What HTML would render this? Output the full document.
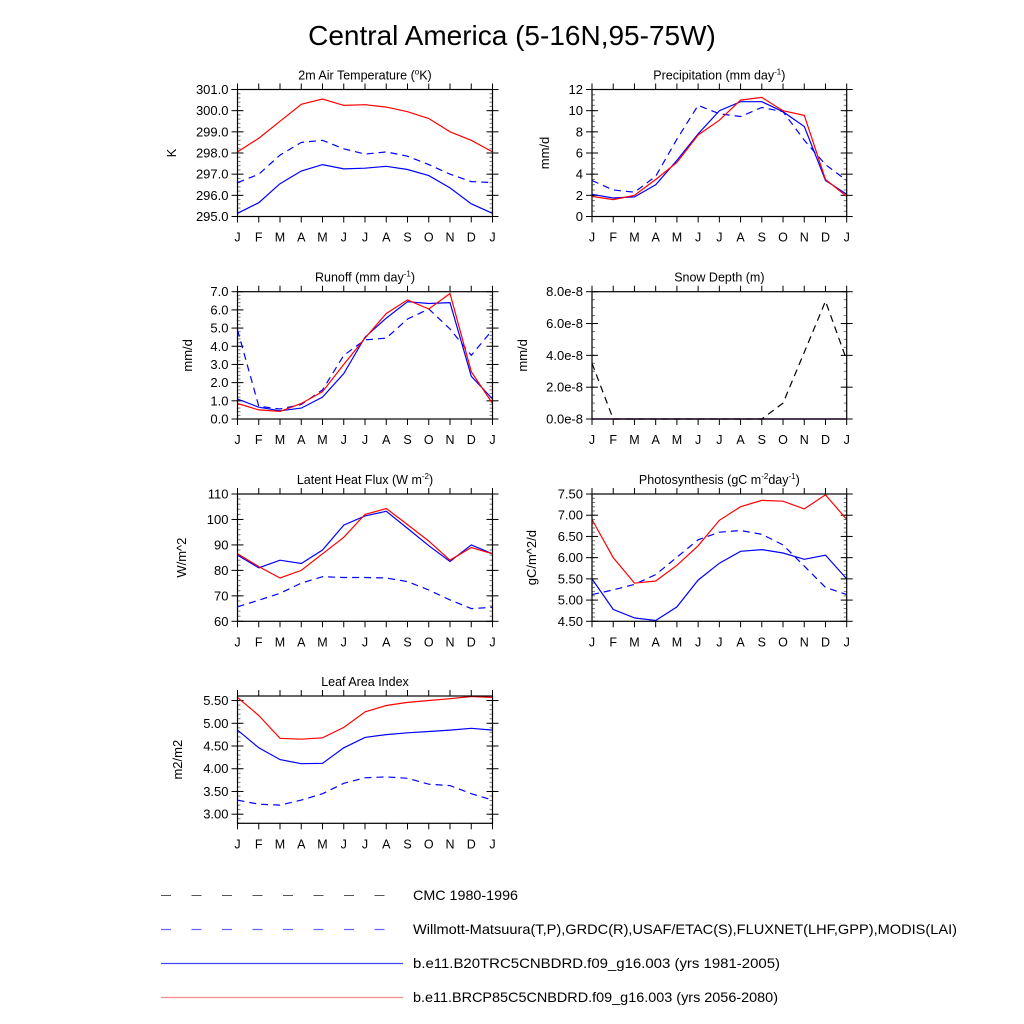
<!DOCTYPE html>
<html><head><meta charset="utf-8"><style>
html,body{margin:0;padding:0;background:#fff;}
svg{display:block;font-family:"Liberation Sans",sans-serif;}
</style></head><body>
<svg id="chart" width="1024" height="1024" viewBox="0 0 1024 1024" xmlns="http://www.w3.org/2000/svg">
<rect width="1024" height="1024" fill="#fff"/>
<text x="512" y="45" font-size="28" text-anchor="middle" fill="#000">Central America (5-16N,95-75W)</text>
<g id="panels"></g>
<g>
<line x1="161" y1="895.5" x2="403" y2="895.5" stroke="#555" stroke-width="1" stroke-dasharray="10,20.5"/>
<text x="413" y="900" font-size="14" textLength="105" lengthAdjust="spacingAndGlyphs">CMC 1980-1996</text>
<line x1="161" y1="929.5" x2="403" y2="929.5" stroke="#6666ff" stroke-width="1.2" stroke-dasharray="10,20.5"/>
<text x="413" y="934" font-size="14" textLength="544" lengthAdjust="spacingAndGlyphs">Willmott-Matsuura(T,P),GRDC(R),USAF/ETAC(S),FLUXNET(LHF,GPP),MODIS(LAI)</text>
<line x1="161" y1="963.5" x2="403" y2="963.5" stroke="#4444ff" stroke-width="1.2"/>
<text x="413" y="968" font-size="14" textLength="367" lengthAdjust="spacingAndGlyphs">b.e11.B20TRC5CNBDRD.f09_g16.003 (yrs 1981-2005)</text>
<line x1="161" y1="997.5" x2="403" y2="997.5" stroke="#ff8888" stroke-width="1.3"/>
<text x="413" y="1002" font-size="14" textLength="365" lengthAdjust="spacingAndGlyphs">b.e11.BRCP85C5CNBDRD.f09_g16.003 (yrs 2056-2080)</text>
</g>
</svg>
<script>
const months = ["J","F","M","A","M","J","J","A","S","O","N","D","J"];
// 2m Air temperature
const tsaRed = [298.05,298.7,299.5,300.3,300.55,300.25,300.28,300.17,299.95,299.63,299.0,298.6,298.05];
const tsaBlue = [295.15,295.65,296.55,297.15,297.45,297.25,297.28,297.37,297.22,296.93,296.35,295.6,295.15];
const tsaObs = [296.6,297.0,297.9,298.5,298.6,298.2,297.95,298.05,297.85,297.45,297.0,296.65,296.6];
// Precipitation
const prRed = [1.9,1.6,2.0,3.5,5.1,7.7,9.1,11.0,11.25,10.0,9.55,3.5,1.9];
const prBlue = [2.1,1.75,1.85,3.0,5.3,7.8,10.0,10.85,10.85,9.9,8.5,3.4,2.1];
const prObs = [3.4,2.5,2.3,3.8,7.3,10.5,9.7,9.45,10.3,9.9,7.2,4.9,3.4];
// Runoff
const roRed = [0.85,0.5,0.42,0.85,1.5,3.0,4.45,5.8,6.55,6.05,6.9,2.6,0.85];
const roBlue = [1.1,0.65,0.45,0.6,1.2,2.5,4.5,5.55,6.45,6.35,6.4,2.35,1.1];
const roObs = [4.9,0.7,0.55,0.8,1.6,3.5,4.35,4.45,5.5,6.05,4.95,3.5,4.9];
// Snow depth (units of 1e-8)
const snRed = [0,0,0,0,0,0,0,0,0,0,0,0,0];
const snBlue = [0,0,0,0,0,0,0,0,0,0,0,0,0];
const snCmc = [3.5,0,0,0,0,0,0,0,0,1.0,4.2,7.4,3.7];
// Latent heat
const lhRed = [86.5,81.5,77,80,86.5,93,102,104.3,98,91.5,84,89,86.5];
const lhBlue = [86,81,84,82.7,88,97.8,101.4,103.2,96.5,89.7,83.5,90,86.5];
const lhObs = [65.7,68.3,71,75,77.5,77.2,77.2,77,75.6,72.3,68.4,65,65.5];
// Photosynthesis
const gppRed = [6.9,6.0,5.4,5.45,5.82,6.28,6.88,7.2,7.35,7.33,7.15,7.48,6.9];
const gppBlue = [5.5,4.78,4.58,4.52,4.84,5.47,5.87,6.15,6.19,6.11,5.96,6.06,5.5];
const gppObs = [5.13,5.24,5.37,5.6,6.01,6.42,6.6,6.64,6.55,6.3,5.8,5.3,5.13];
// LAI
const laiRed = [5.57,5.17,4.67,4.65,4.68,4.91,5.25,5.39,5.46,5.50,5.54,5.59,5.57];
const laiBlue = [4.85,4.46,4.20,4.11,4.12,4.46,4.69,4.75,4.79,4.82,4.85,4.89,4.85];
const laiObs = [3.31,3.22,3.20,3.31,3.45,3.68,3.80,3.82,3.79,3.66,3.63,3.45,3.31];

const NS="http://www.w3.org/2000/svg";
const root=document.getElementById("panels");
function mk(tag,attrs,parent){const e=document.createElementNS(NS,tag);for(const k in attrs)e.setAttribute(k,attrs[k]);(parent||root).appendChild(e);return e;}

const panels=[
 {key:"air-temperature",title:"2m Air Temperature (",sup:"o",after:"K)",ylab:"K",ylx:176,x0:237.5,x1:492.5,y0:89.5,y1:216.5,min:295,max:301,step:1,minor:0.2,dec:1,series:[[tsaObs,"#0000ff",true],[tsaBlue,"#0000ff",false],[tsaRed,"#ff0000",false]]},
 {key:"precipitation",title:"Precipitation (mm day",sup:"-1",after:")",ylab:"mm/d",ylx:549,x0:592,x1:846.7,y0:89.5,y1:216.5,min:0,max:12,step:2,minor:0.5,dec:0,series:[[prObs,"#0000ff",true],[prBlue,"#0000ff",false],[prRed,"#ff0000",false]]},
 {key:"runoff",title:"Runoff (mm day",sup:"-1",after:")",ylab:"mm/d",ylx:192,x0:237.5,x1:492.5,y0:291.7,y1:419,min:0,max:7,step:1,minor:0.2,dec:1,series:[[roObs,"#0000ff",true],[roBlue,"#0000ff",false],[roRed,"#ff0000",false]]},
 {key:"snow-depth",title:"Snow Depth (m)",sup:"",after:"",ylab:"mm/d",ylx:527,x0:592,x1:846.7,y0:291.7,y1:419,min:0,max:8,step:2,minor:0.5,dec:1,suffix:"e-8",series:[[snRed,"#ff0000",false],[snBlue,"#0000ff",false],[snCmc,"#000000",true]]},
 {key:"latent-heat",title:"Latent Heat Flux (W m",sup:"-2",after:")",ylab:"W/m^2",ylx:186,x0:237.5,x1:492.5,y0:494,y1:621.3,min:60,max:110,step:10,minor:2,dec:0,series:[[lhObs,"#0000ff",true],[lhBlue,"#0000ff",false],[lhRed,"#ff0000",false]]},
 {key:"photosynthesis",title:"Photosynthesis (gC m",sup:"-2",after:"day",sup2:"-1",after2:")",ylab:"gC/m^2/d",ylx:536,x0:592,x1:846.7,y0:494,y1:621.3,min:4.5,max:7.5,step:0.5,minor:0.1,dec:2,series:[[gppObs,"#0000ff",true],[gppBlue,"#0000ff",false],[gppRed,"#ff0000",false]]},
 {key:"leaf-area-index",title:"Leaf Area Index",sup:"",after:"",ylab:"m2/m2",ylx:182,x0:237.5,x1:492.5,y0:696,y1:823.3,min:2.8,max:5.6,step:0.5,minor:0.1,dec:2,tickStart:3.0,series:[[laiObs,"#0000ff",true],[laiBlue,"#0000ff",false],[laiRed,"#ff0000",false]]}
];

panels.forEach(p=>{
 const g=mk("g",{});
 
 
 const xs=i=>p.x0+(p.x1-p.x0)*i/12;
 const ys=v=>p.y1-(p.y1-p.y0)*(v-p.min)/(p.max-p.min);
 const t=mk("text",{x:(p.x0+p.x1)/2,y:p.y0-10,"font-size":12.5,"text-anchor":"middle",fill:"#000"},g);
 
 
 t.appendChild(document.createTextNode(p.title));
 if(p.sup){const s=mk("tspan",{"font-size":8,dy:-5},t);s.textContent=p.sup;const a=mk("tspan",{dy:5},t);a.textContent=p.after;}
 if(p.sup2){const s=mk("tspan",{"font-size":8,dy:-5},t);s.textContent=p.sup2;const a=mk("tspan",{dy:5},t);a.textContent=p.after2;}
 const yl=mk("text",{x:p.ylx,y:(p.y0+p.y1)/2,"font-size":13,"text-anchor":"middle",transform:`rotate(-90 ${p.ylx} ${(p.y0+p.y1)/2})`},g);
 
 
 yl.textContent=p.ylab;
 const nmin=Math.round((p.max-p.min)/p.minor);
 for(let k=0;k<=nmin;k++){const y=ys(p.min+k*p.minor);
  mk("line",{x1:p.x0,x2:p.x0+3,y1:y,y2:y,stroke:"#777","stroke-width":1},g);
  mk("line",{x1:p.x1,x2:p.x1-3,y1:y,y2:y,stroke:"#777","stroke-width":1},g);}
 const start=p.tickStart!==undefined?p.tickStart:p.min;
 for(let v=start;v<=p.max+1e-9;v+=p.step){const y=ys(v);
  mk("line",{x1:p.x0-6,x2:p.x0+6,y1:y,y2:y,stroke:"#000","stroke-width":1},g);
  mk("line",{x1:p.x1+6,x2:p.x1-6,y1:y,y2:y,stroke:"#000","stroke-width":1},g);
  const l=mk("text",{x:p.x0-9,y:y+4.5,"font-size":13,"text-anchor":"end"},g);
  
  
  l.textContent=v.toFixed(p.dec)+(p.suffix||"");}
 months.forEach((m,i)=>{const x=xs(i);
  mk("line",{x1:x,x2:x,y1:p.y1,y2:p.y1+6,stroke:"#000","stroke-width":1},g);
  mk("line",{x1:x,x2:x,y1:p.y0,y2:p.y0-6,stroke:"#000","stroke-width":1},g);
  const l=mk("text",{x:x,y:p.y1+25,"font-size":12.5,"text-anchor":"middle"},g);
  
  
  l.textContent=m;});
 p.series.forEach((s,si)=>{
  const pts=s[0].map((v,i)=>xs(i).toFixed(1)+","+ys(v).toFixed(1)).join(" ");
  const pl=mk("polyline",{points:pts,fill:"none",stroke:s[1],"stroke-width":1.2},g);
  if(s[2])pl.setAttribute("stroke-dasharray","7,5");
  
  
 });
 const r=mk("rect",{x:p.x0,y:p.y0,width:p.x1-p.x0,height:p.y1-p.y0,fill:"none",stroke:"#000","stroke-width":1.2},g);
 
 
});
</script>
</body></html>
